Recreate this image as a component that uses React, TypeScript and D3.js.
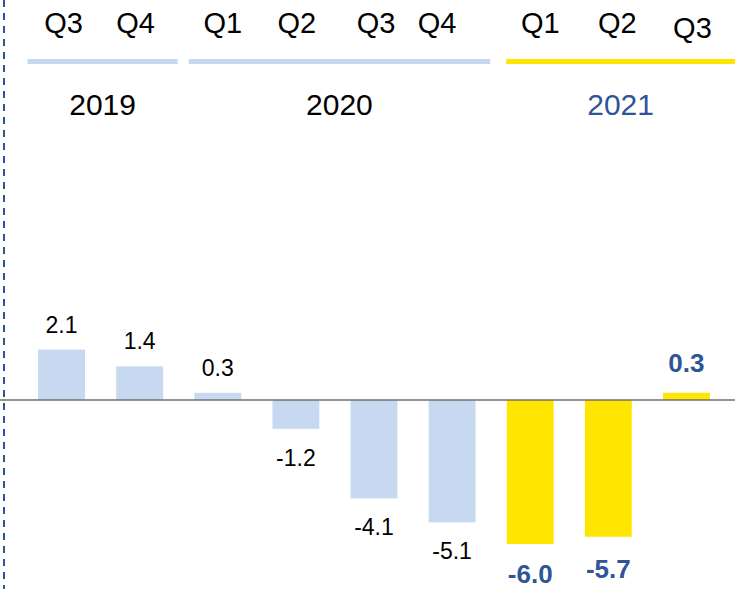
import React from "react";
import * as d3 from "d3";

const quarters = ["Q3", "Q4", "Q1", "Q2", "Q3", "Q4", "Q1", "Q2", "Q3"];
const years = ["2019", "2019", "2020", "2020", "2020", "2020", "2021", "2021", "2021"];
const values = [2.1, 1.4, 0.3, -1.2, -4.1, -5.1, -6.0, -5.7, 0.3];
const yearGroups = ["2019", "2020", "2021"];
const highlightYear = "2021";

// small horizontal nudges of the quarter headers relative to bar centres (style)
const quarterNudge = [2, -4, 5, 1, 2, -15, 10, 9, 6];

const W = 741;
const H = 589;
const LIGHT = "#c6d9f0";
const YELLOW = "#ffe600";
const BLUE = "#2f5597";
const FONT = "'Liberation Sans', Arial, sans-serif";

export default function App() {
  const idx = values.map((_, i) => String(i));
  const x = d3.scaleBand().domain(idx).range([22.5, 725.5]).paddingInner(0.4).paddingOuter(0.2);
  const y = d3.scaleLinear().domain([-8, 8]).range([592, 208]);
  const bw = x.bandwidth();
  const step = x.step();
  const y0 = y(0);

  const groups = yearGroups.map((yr, gi) => {
    const members = idx.filter((i) => years[+i] === yr);
    const first = x(members[0])! - (step - bw) / 2;
    const last = x(members[members.length - 1])! + bw + (step - bw) / 2;
    const start = first + 5 + gi * 5;
    const end = gi === yearGroups.length - 1 ? W - 6 : last - 1;
    return { yr, start, end };
  });

  return (
    <svg width={W} height={H} style={{ position: "absolute", left: 0, top: 0, background: "#fff" }} fontFamily={FONT}>
      <line x1={4} x2={4} y1={0} y2={H} stroke={BLUE} strokeWidth={2} strokeDasharray="7,6" />
      {quarters.map((q, i) => (
        <text key={"q" + i} x={x(String(i))! + bw / 2 + quarterNudge[i]} y={i === 8 ? 38 : 33} textAnchor="middle" fontSize={29} fill="#000">
          {q}
        </text>
      ))}
      {groups.map((g) => (
        <g key={g.yr}>
          <rect x={g.start} y={59} width={g.end - g.start} height={5} fill={g.yr === highlightYear ? YELLOW : LIGHT} />
          <text x={(g.start + g.end) / 2} y={115} textAnchor="middle" fontSize={30} fill={g.yr === highlightYear ? BLUE : "#000"}>
            {g.yr}
          </text>
        </g>
      ))}
      {values.map((v, i) => {
        const hl = years[i] === highlightYear;
        const cx = x(String(i))! + bw / 2;
        return (
          <g key={"b" + i}>
            <rect x={x(String(i))} y={Math.min(y(v), y0)} width={bw} height={Math.abs(y(v) - y0)} fill={hl ? YELLOW : LIGHT} />
            <text
              x={cx}
              y={v >= 0 ? y(v) - (hl ? 21 : 17) : Math.min(y(v) + (hl ? 41 : 37), H - 6)}
              textAnchor="middle"
              fontSize={hl ? 26 : 23}
              fontWeight={hl ? "bold" : "normal"}
              fill={hl ? BLUE : "#000"}
            >
              {v.toFixed(1)}
            </text>
          </g>
        );
      })}
      <line x1={0} x2={735} y1={y0} y2={y0} stroke="#707070" strokeWidth={1.5} />
    </svg>
  );
}
